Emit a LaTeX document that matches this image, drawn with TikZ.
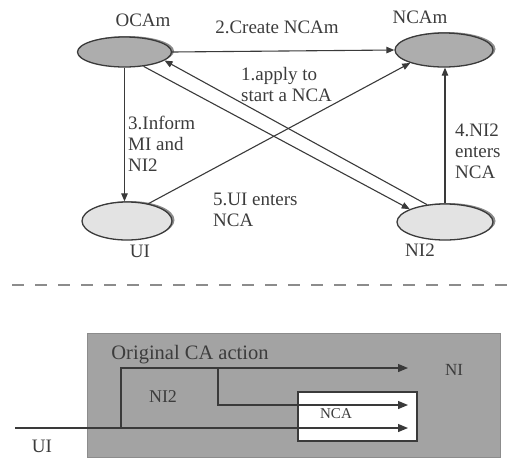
\documentclass[tikz,border=0pt]{standalone}
\usepackage{fontspec}
\setmainfont{Liberation Serif}
\usetikzlibrary{arrows.meta,shapes.geometric,shadows}
\definecolor{ink}{HTML}{3A3A3A}
\definecolor{txt}{HTML}{3C3C3C}
\definecolor{darkfill}{HTML}{ADADAD}
\definecolor{lightfill}{HTML}{E3E3E3}
\definecolor{boxfill}{HTML}{A3A3A3}
\begin{document}
\begin{tikzpicture}[x=1pt,y=-1pt,
  oval/.style={ellipse, draw=ink, line width=1.3pt, inner sep=0pt,
    drop shadow={shadow xshift=2.5pt, shadow yshift=1pt, fill=black, opacity=0.45}},
  darkoval/.style={oval, fill=darkfill},
  lightoval/.style={oval, fill=lightfill},
  lbl/.style={text=txt, font=\fontsize{19}{21}\selectfont, inner sep=0pt},
  mlbl/.style={lbl, align=left},
  conn/.style={draw=ink, line width=1.1pt, -{Triangle[length=8pt,width=6.5pt]}},
  flow/.style={draw=ink, line width=1.2pt, -{Triangle[length=10pt,width=8pt]}},
  greybox/.style={draw=black!45, fill=boxfill, line width=1pt, inner sep=0pt},
  whitebox/.style={draw=ink, fill=white, line width=1.2pt, inner sep=0pt}]
\useasboundingbox (0,0) rectangle (507,459);

% ---------- top diagram ----------
\node[darkoval, minimum width=94pt, minimum height=30pt] (OCAm) at (124.5,52) {};
\node[darkoval, minimum width=98pt, minimum height=34pt] (NCAm) at (444,50) {};
\node[lightoval, minimum width=90pt, minimum height=38pt] (UI) at (127,221) {};
\node[lightoval, minimum width=96pt, minimum height=36pt] (NI2) at (445,222) {};

\node[lbl] (tOCAm) at (143,20) {OCAm};
\node[lbl] (tNCAm) at (420,17) {NCAm};
\node[lbl] (tUI) at (140,251) {UI};
\node[lbl] (tNI2) at (420,250) {NI2};

\draw[conn] (OCAm.east) -- (NCAm.west);
\draw[conn] (NI2.136) -- (OCAm.-12);
\draw[conn] (OCAm.-37) -- (NI2.160);
\draw[conn] (UI.39) -- (NCAm.-159);
\draw[conn] (OCAm.south) -- (OCAm.south |- UI.north);
\draw[conn] (NI2.north) -- (NI2.north |- NCAm.south);

\node[lbl] (l2) at (277,27) {2.Create NCAm};
\node[mlbl, anchor=west] (l1) at (241,84) {1.apply to\\start a NCA};
\node[mlbl, anchor=west] (l3) at (128,144) {3.Inform\\MI and\\NI2};
\node[mlbl, anchor=west] (l4) at (455,151) {4.NI2\\enters\\NCA};
\node[mlbl, anchor=west] (l5) at (213,210) {5.UI enters\\NCA};

% ---------- separator ----------
\coordinate (dL) at (12,285);
\coordinate (dR) at (507,285);
\draw[black!45, line width=1.6pt, dash pattern=on 12pt off 11pt] (dL) -- (dR);

% ---------- bottom diagram ----------
\node[greybox, minimum width=413pt, minimum height=124pt] (CA) at (293.5,395) {};
\node[whitebox, minimum width=119pt, minimum height=49pt] (NCAbox) at (357.5,416.5) {};

\node[text=txt, inner sep=0pt, font=\fontsize{20.5}{22}\selectfont] (tOrig) at (190,355) {Original CA action};
\node[text=txt, inner sep=0pt, font=\fontsize{18}{20}\selectfont] (tNI2b) at (163,397) {NI2};
\node[text=txt, inner sep=0pt, font=\fontsize{15}{17}\selectfont] (tNCA) at (336,414) {NCA};
\node[text=txt, inner sep=0pt, font=\fontsize{17}{19}\selectfont] (tNI) at (454,370) {NI};
\node[text=txt, inner sep=0pt, font=\fontsize{19}{21}\selectfont] (tUIb) at (42,446) {UI};

\coordinate (uiS) at (15,428);
\coordinate (uiE) at (408,428);
\coordinate (j1) at (121,428);
\coordinate (j1t) at (121,368);
\coordinate (e1) at (408,368);
\coordinate (j2) at (218,368);
\coordinate (j2b) at (218,405);
\coordinate (e2) at (408,405);

\draw[flow] (uiS) -- (uiE);
\draw[flow] (j1) -- (j1t) -- (e1);
\draw[flow] (j2) -- (j2b) -- (e2);
\end{tikzpicture}
\end{document}
